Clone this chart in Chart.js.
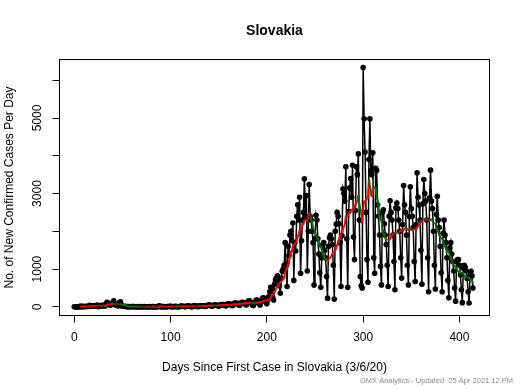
<!DOCTYPE html>
<html>
<head>
<meta charset="utf-8">
<script src="https://cdn.jsdelivr.net/npm/chart.js@4.4.0/dist/chart.umd.min.js"></script>
<style>
  html, body { margin: 0; padding: 0; background: #fff; }
</style>
</head>
<body>
<canvas id="chart" width="520" height="390"></canvas>
<script>
// daily new cases, one row per week, day 0 = 3/6/20
const casesSpring = [
  1, 0, 2, 0, 3, 5, 11,
  11, 4, 11, 9, 6, 8, 14,
  10, 12, 41, 13, 25, 23, 30,
  27, 22, 37, 37, 6, 34, 21,
  40, 30, 19, 45, 23, 70, 120,
  114, 60, 48, 52, 62, 96, 160,
  70, 45, 55, 30, 31, 110, 130,
  25, 20, 15, 12, 10, 8, 6,
  5, 3, 7, 2, 10, 4, 8
];
const casesSummer = [
  1, 0, 3, 5, 1, 2, 6,
  0, 1, 2, 8, 0, 3, 2,
  1, 5, 1, 0, 4, 6, 2,
  2, 3, 1, 0, 30, 19, 3,
  5, 6, 4, 1, 2, 5, 10,
  8, 12, 15, 6, 3, 9, 7,
  11, 6, 9, 3, 2, 14, 20,
  15, 13, 10, 4, 8, 20, 18,
  22, 14, 9, 5, 11, 25, 30,
  20, 17, 12, 4, 19, 28, 27,
  30, 25, 18, 9, 20, 35, 45,
  39, 48, 31, 14, 22, 44, 45,
  50, 40, 32, 16, 30, 60, 52,
  58, 62, 42, 25, 31, 75, 73,
  75, 70, 56, 31, 40, 90, 95,
  103, 90, 80, 43, 47, 104, 116,
  117, 107, 98, 53, 52, 113, 158
];
const casesAutumn = [
  160, 130, 110, 50, 36, 95, 119,
  180, 170, 150, 90, 50, 140, 200,
  240, 230, 200, 120, 80, 190, 270,
  400, 520, 480, 250, 180, 600, 720,
  760, 820, 700, 560, 360, 760, 940,
  1000, 1100, 1700, 1100, 540, 1600, 1360,
  1900, 2000, 1750, 2220, 700, 1700, 1480,
  2400, 2700, 2300, 2900, 890, 1750, 2300,
  2500, 3390, 2400, 2950, 950, 2000, 3240,
  2400, 2300, 2000, 1700, 575, 1800, 2425,
  2300, 1800, 1400, 900, 520, 1300, 1640,
  1700, 1500, 1300, 800, 230, 1600, 1830,
  1900, 1800, 1650, 1100, 205, 2000, 2195,
  2500, 2400, 2200, 1700, 540, 1890, 3120,
  3000, 2800, 3710, 1800, 515, 2525, 3150,
  3400, 2900, 3750, 1850, 1250, 2550, 3710,
  3500, 4050, 2300, 800, 560, 500, 6340
];
const casesWinter = [
  4980, 4100, 2500, 1250, 650, 3900, 4980,
  3600, 3500, 4080, 1300, 890, 3670, 3610,
  2700, 2400, 1900, 1070, 580, 2500, 2570,
  2200, 1900, 1650, 1100, 540, 2400, 2810,
  2500, 2300, 1900, 1200, 450, 2620, 2750,
  2600, 2300, 2000, 1300, 760, 2180, 3210,
  2700, 2500, 1900, 1100, 580, 2390, 3180,
  2600, 2400, 2100, 1200, 670, 2180, 3550,
  2900, 2700, 2300, 1500, 600, 2730, 3370,
  3000, 2800, 2300, 1300, 400, 2890, 3620
];
const casesSpring21 = [
  2800, 2600, 2000, 1100, 470, 2450, 2930,
  2300, 2100, 1600, 900, 400, 1950, 2300,
  1900, 1700, 1300, 700, 240, 1560, 1700,
  1400, 1200, 950, 500, 150, 1200, 1250,
  1250, 1100, 850, 450, 110, 1020, 1100,
  1050, 950, 750, 400, 100, 850, 940,
  820, 500
];

const xTicks = [0, 100, 200, 300, 400];
const yTicks = [0, 1000, 2000, 3000, 4000, 5000, 6000];
const yTickLabels = [0, 1000, 3000, 5000];

const titleText = "Slovakia";
const xTitle = "Days Since First Case in Slovakia (3/6/20)";
const yTitle = "No. of New Confirmed Cases Per Day";
const footer = "GMX Analytics - Updated  25 Apr 2021 12 PM";

const cases = [].concat(casesSpring, casesSummer, casesAutumn, casesWinter, casesSpring21);
const daily = cases.map((v, i) => ({ x: i, y: v }));

// trailing 7 day average
const avg = [];
for (let i = 6; i < cases.length; i++) {
  let s = 0;
  for (let j = i - 6; j <= i; j++) s += cases[j];
  avg.push({ x: i, y: s / 7 });
}

const FONT = '"Liberation Sans", Arial, sans-serif';

const rStyle = {
  id: "rStyle",
  beforeDraw(chart) {
    const ctx = chart.ctx;
    ctx.save();
    ctx.fillStyle = "#fff";
    ctx.fillRect(0, 0, chart.width, chart.height);
    ctx.restore();
  },
  afterDraw(chart) {
    const { ctx, chartArea: a, scales } = chart;
    ctx.save();
    ctx.strokeStyle = "#000";
    ctx.lineWidth = 1;
    ctx.strokeRect(a.left, a.top, a.right - a.left, a.bottom - a.top);

    ctx.fillStyle = "#000";
    ctx.textAlign = "center";
    ctx.textBaseline = "middle";

    ctx.font = "bold 14px " + FONT;
    ctx.fillText(titleText, (a.left + a.right) / 2, 31);

    ctx.font = "12px " + FONT;
    xTicks.forEach(v => ctx.fillText(String(v), scales.x.getPixelForValue(v), 338));
    ctx.fillText(xTitle, (a.left + a.right) / 2, 368);

    yTickLabels.forEach(v => {
      ctx.save();
      ctx.translate(38, scales.y.getPixelForValue(v));
      ctx.rotate(-Math.PI / 2);
      ctx.fillText(String(v), 0, 0);
      ctx.restore();
    });

    ctx.save();
    ctx.translate(10, (a.top + a.bottom) / 2);
    ctx.rotate(-Math.PI / 2);
    ctx.fillText(yTitle, 0, 0);
    ctx.restore();

    ctx.font = "7.5px " + FONT;
    ctx.fillStyle = "#8a8a8a";
    ctx.textAlign = "right";
    ctx.fillText(footer, 513, 381);
    ctx.restore();
  }
};

new Chart(document.getElementById("chart"), {
  type: "line",
  data: {
    datasets: [
      {
        label: "7 day average",
        data: avg,
        order: 0,
        borderWidth: 2,
        pointRadius: 0,
        tension: 0,
        borderColor: "red",
        segment: {
          borderColor: c => (c.p1.parsed.y > c.p0.parsed.y ? "#ff0000" : "#007000")
        }
      },
      {
        label: "New cases",
        data: daily,
        order: 1,
        borderColor: "#000",
        borderWidth: 1.5,
        pointRadius: 2.8,
        pointBorderWidth: 0,
        pointBackgroundColor: "#000",
        tension: 0
      }
    ]
  },
  options: {
    responsive: false,
    devicePixelRatio: 1,
    animation: false,
    layout: { padding: { top: 59.5, right: 30.5, left: 0, bottom: 0 } },
    plugins: {
      legend: { display: false },
      title: { display: false },
      tooltip: { enabled: false }
    },
    scales: {
      x: {
        type: "linear",
        min: -15.3,
        max: 431.2,
        afterBuildTicks: s => { s.ticks = xTicks.map(v => ({ value: v })); },
        afterFit: s => { s.height = 74.5; },
        ticks: { display: false },
        border: { display: false },
        grid: { drawOnChartArea: false, drawTicks: true, tickLength: 7, color: "#000" }
      },
      y: {
        type: "linear",
        min: -230,
        max: 6550,
        afterBuildTicks: s => { s.ticks = yTicks.map(v => ({ value: v })); },
        afterFit: s => { s.width = 59.5; },
        ticks: { display: false },
        border: { display: false },
        grid: { drawOnChartArea: false, drawTicks: true, tickLength: 7, color: "#000" }
      }
    }
  },
  plugins: [rStyle]
});
</script>
</body>
</html>
